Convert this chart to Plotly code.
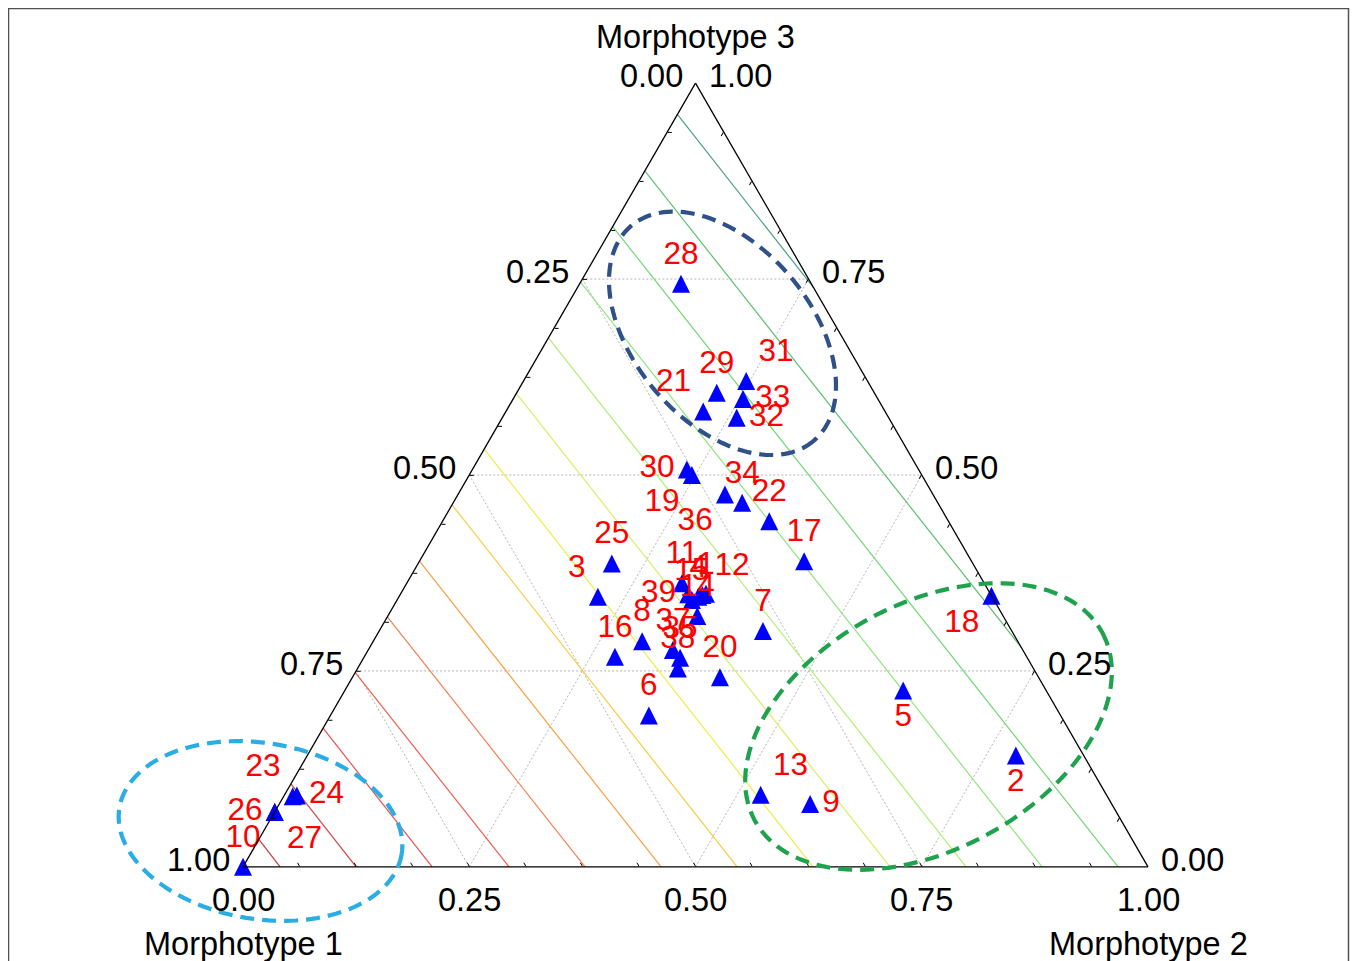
import math
import plotly.graph_objects as go

# ---------------- data ----------------
point_ids = [str(i) for i in range(1, 40)]
morph1 = [0.314, 0.075, 0.436, 0.325, 0.158, 0.455, 0.275, 0.415, 0.333, 1.000,
          0.334, 0.319, 0.382, 0.338, 0.334, 0.455, 0.185, 0.000, 0.254, 0.352,
          0.201, 0.198, 0.900, 0.895, 0.399, 0.930, 0.930, 0.144, 0.174, 0.256,
          0.134, 0.168, 0.149, 0.216, 0.384, 0.230, 0.387, 0.393, 0.334]
morph2 = [0.337, 0.783, 0.220, 0.331, 0.617, 0.352, 0.424, 0.297, 0.586, 0.000,
          0.304, 0.334, 0.526, 0.342, 0.326, 0.277, 0.425, 0.654, 0.246, 0.406,
          0.218, 0.361, 0.010, 0.014, 0.214, 0.000, 0.000, 0.112, 0.221, 0.237,
          0.246, 0.259, 0.254, 0.319, 0.350, 0.295, 0.337, 0.354, 0.318]
morph3 = [0.348, 0.142, 0.345, 0.345, 0.225, 0.193, 0.301, 0.288, 0.080, 0.000,
          0.362, 0.347, 0.092, 0.320, 0.341, 0.268, 0.390, 0.346, 0.500, 0.242,
          0.581, 0.441, 0.090, 0.091, 0.387, 0.070, 0.070, 0.744, 0.605, 0.507,
          0.620, 0.573, 0.597, 0.464, 0.267, 0.475, 0.277, 0.253, 0.348]

label_positions = ["top center", "bottom center", "top left", "top center", "bottom center",
                   "top center", "top center", "top center", "middle right", "top center",
                   "top center", "top right", "top right", "top center", "top center",
                   "top center", "top center", "bottom left", "bottom left", "top center",
                   "top left", "top center", "top left", "middle right", "top center",
                   "middle left", "bottom right", "top center", "top center", "middle left",
                   "top right", "middle right", "middle right", "top center", "top center",
                   "bottom left", "top center", "top center", "middle left"]

axis_titles = ["Morphotype 1", "Morphotype 2", "Morphotype 3"]
tick_values = [0.0, 0.25, 0.50, 0.75, 1.0]
tick_labels = ["0.00", "0.25", "0.50", "0.75", "1.00"]
grid_values = [0.25, 0.50, 0.75]

# iso-lines of the fitted surface: start on the Morphotype-1 edge (M2 = 0),
# end either on the bottom edge (M3 = 0) or on the right edge (M1 = 0)
contour_start_m3 = [0.035, 0.106, 0.177, 0.248, 0.319, 0.390, 0.462,
                    0.533, 0.604, 0.675, 0.746, 0.817, 0.888, 0.960]
contour_end_m2 = [0.041, 0.125, 0.209, 0.294, 0.378, 0.462, 0.546,
                  0.630, 0.715, 0.799, 0.883, 0.967, 0.720, 0.261]
contour_end_m3 = [0.0, 0.0, 0.0, 0.0, 0.0, 0.0, 0.0,
                  0.0, 0.0, 0.0, 0.0, 0.0, 0.280, 0.739]
contour_colors = ["#c03a3a", "#d64242", "#e65050", "#ef5e50", "#f47e50", "#f8a040", "#f6cc40",
                  "#eeee44", "#d6f064", "#b0ee72", "#8ee67e", "#70d872", "#5cc070", "#4aa080"]

# hand-drawn group ellipses (pixel geometry of the picture page)
ellipse_cx = [722.5, 928.5, 260.5]
ellipse_cy = [333.3, 726.5, 831.0]
ellipse_a = [141.0, 197.5, 143.0]
ellipse_b = [88.4, 123.0, 88.0]
ellipse_angle = [49.6, -28.4, 9.3]
ellipse_colors = ["#2f5089", "#1fa24e", "#29ade3"]

# ---------------- geometry helpers ----------------
PAGE_OFF = 8                      # default body margin of the html page
FIG_W, FIG_H = 1350, 953
M_L, M_R, M_T, M_B = 235, 210, 75, 94
PLOT_W = FIG_W - M_L - M_R
PLOT_H = FIG_H - M_T - M_B
TRI_H = PLOT_W * math.sqrt(3) / 2
Y_OFF = (PLOT_H - TRI_H) / 2


def tern_to_paper(m1, m2, m3):
    s = m1 + m2 + m3
    return (m2 + m3 / 2) / s, (Y_OFF + TRI_H * m3 / s) / PLOT_H


def px_to_paper(px, py):
    fx, fy = px - PAGE_OFF, py - PAGE_OFF
    return (fx - M_L) / PLOT_W, (FIG_H - M_B - fy) / PLOT_H


def ellipse_path(cx, cy, a, b, ang, n=160):
    t = math.radians(ang)
    pts = []
    for i in range(n):
        u = 2 * math.pi * i / n
        ex, ey = a * math.cos(u), b * math.sin(u)
        px = cx + ex * math.cos(t) - ey * math.sin(t)
        py = cy + ex * math.sin(t) + ey * math.cos(t)
        x, y = px_to_paper(px, py)
        pts.append(f"{x:.5f},{y:.5f}")
    return "M" + " L".join(pts) + " Z"


fig = go.Figure()

# dotted grid
for v in grid_values:
    segs = [((1 - v, 0, v), (0, 1 - v, v)),      # constant Morphotype 3
            ((v, 0, 1 - v), (v, 1 - v, 0)),      # constant Morphotype 1
            ((1 - v, v, 0), (0, v, 1 - v))]      # constant Morphotype 2
    for p, q in segs:
        fig.add_trace(go.Scatterternary(
            a=[p[2], q[2]], b=[p[0], q[0]], c=[p[1], q[1]], mode="lines",
            line=dict(color="#b4b4b4", width=1, dash="2px,2px"),
            hoverinfo="skip", showlegend=False))

# iso-lines
for s3, e2, e3, col in zip(contour_start_m3, contour_end_m2, contour_end_m3, contour_colors):
    fig.add_trace(go.Scatterternary(
        a=[s3, e3], b=[1 - s3, 1 - e2 - e3], c=[0.0, e2], mode="lines",
        line=dict(color=col, width=1.2), hoverinfo="skip", showlegend=False))

# data points
fig.add_trace(go.Scatterternary(
    a=morph3, b=morph1, c=morph2, mode="markers+text",
    text=point_ids, textposition=label_positions,
    textfont=dict(family="Liberation Sans, Arial, sans-serif", size=31.5, color="#ff0000"),
    marker=dict(symbol="arrow-down", angle=180, standoff=9, size=18, color="#0000ff",
                line=dict(width=0)),
    cliponaxis=False, showlegend=False, hoverinfo="skip"))

axis_common = dict(showticklabels=False, ticks="inside", ticklen=4, tickwidth=1,
                   tickcolor="black", tickmode="linear", tick0=0, dtick=0.0625,
                   showline=True, linecolor="black", linewidth=1.3,
                   showgrid=False, title=dict(text=""), min=0)

font_axis = dict(family="Liberation Sans, Arial, sans-serif", size=32.5, color="black")
annotations = []
for v, t in zip(tick_values, tick_labels):
    x, y = tern_to_paper(v, 0, 1 - v)
    annotations.append(dict(x=x, y=y, xref="paper", yref="paper", text=t, showarrow=False,
                            xanchor="right", yanchor="middle", xshift=-11, yshift=7, font=font_axis))
    x, y = tern_to_paper(1 - v, v, 0)
    annotations.append(dict(x=x, y=y, xref="paper", yref="paper", text=t, showarrow=False,
                            xanchor="center", yanchor="middle", yshift=-33, font=font_axis))
    x, y = tern_to_paper(0, 1 - v, v)
    annotations.append(dict(x=x, y=y, xref="paper", yref="paper", text=t, showarrow=False,
                            xanchor="left", yanchor="middle", xshift=11, yshift=7, font=font_axis))

title_anchor = [(1, 0, 0), (0, 1, 0), (0, 0, 1)]
title_shift = [-77, -77, 46]
for txt, (p1, p2, p3), ys in zip(axis_titles, title_anchor, title_shift):
    x, y = tern_to_paper(p1, p2, p3)
    annotations.append(dict(x=x, y=y, xref="paper", yref="paper", text=txt, showarrow=False,
                            xanchor="center", yanchor="middle", yshift=ys, font=font_axis))

shapes = []
for cx, cy, a, b, ang, col in zip(ellipse_cx, ellipse_cy, ellipse_a, ellipse_b,
                                   ellipse_angle, ellipse_colors):
    shapes.append(dict(type="path", xref="paper", yref="paper",
                       path=ellipse_path(cx, cy, a, b, ang),
                       line=dict(color=col, width=4.2, dash="14px,8px")))

fx0, fy0 = px_to_paper(8.5, 975)
fx1, fy1 = px_to_paper(1348.5, 8.5)
shapes.append(dict(type="rect", xref="paper", yref="paper", x0=fx0, y0=fy0, x1=fx1, y1=fy1,
                   line=dict(color="#505050", width=1.5)))

fig.update_layout(
    width=FIG_W, height=FIG_H,
    margin=dict(l=M_L, r=M_R, t=M_T, b=M_B, pad=0),
    paper_bgcolor="white", plot_bgcolor="white",
    ternary=dict(sum=1, bgcolor="white", domain=dict(x=[0, 1], y=[0, 1]),
                 aaxis=axis_common, baxis=axis_common, caxis=axis_common),
    annotations=annotations, shapes=shapes, showlegend=False,
)

fig.write_html("out.html")
